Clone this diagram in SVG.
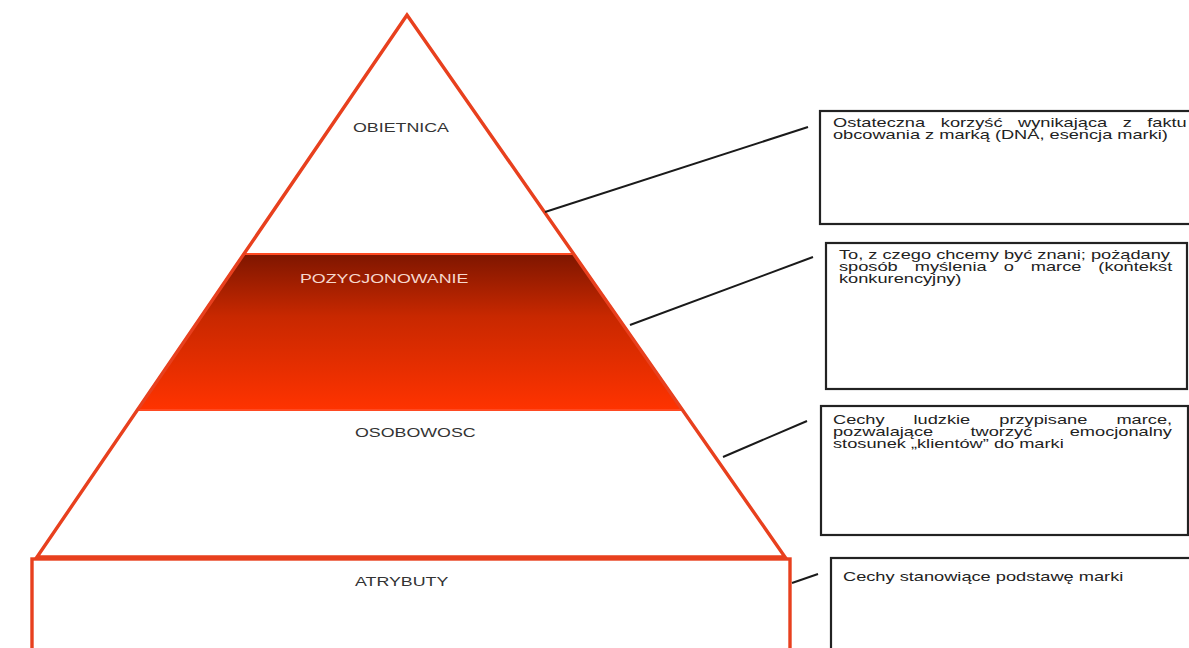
<svg xmlns="http://www.w3.org/2000/svg" width="1189" height="648" viewBox="0 0 1189 648">
  <style>
    .lbl { font-family: "Liberation Sans", Arial, sans-serif; font-size: 13px; fill: #333333; }
    .lblw { font-family: "Liberation Sans", Arial, sans-serif; font-size: 13px; fill: #F6D8CE; }
    .txt { font-family: "Liberation Sans", Arial, sans-serif; font-size: 13.3px; fill: #222222; }
    .box { fill: #ffffff; stroke: #222222; stroke-width: 2.2; }
    .red { stroke: #E8401E; stroke-width: 3.4; stroke-linejoin: miter; }
    .conn line { stroke: #1a1a1a; stroke-width: 2; }
  </style>
  <defs>
    <linearGradient id="bandGrad" x1="0" y1="0" x2="0" y2="1">
      <stop offset="0" stop-color="#7E1600"/>
      <stop offset="0.4" stop-color="#C82800"/>
      <stop offset="1" stop-color="#FF3300"/>
    </linearGradient>
  </defs>
  <rect width="1189" height="648" fill="#ffffff"/>

  <g id="pyramid">
    <polygon points="407,15 37,557 785,557" fill="#ffffff"/>
    <polygon id="band" points="243.8,254 573.7,254 682.5,410 137.4,410" fill="url(#bandGrad)" stroke="#FF4A22" stroke-width="2"/>
    <polygon points="407,15 37,557 785,557" fill="none" class="red"/>
  </g>

  <g id="obietnica">
    <text class="lbl" transform="translate(353,132) scale(1.37,1)">OBIETNICA</text>
  </g>
  <g id="pozycjonowanie">
    <text class="lblw" transform="translate(300,283) scale(1.37,1)">POZYCJONOWANIE</text>
  </g>
  <g id="osobowosc">
    <text class="lbl" transform="translate(355,437) scale(1.37,1)">OSOBOWOSC</text>
  </g>
  <g id="atrybuty">
    <rect x="32" y="559" width="758" height="110" fill="#ffffff" class="red"/>
    <text class="lbl" transform="translate(355,586) scale(1.37,1)">ATRYBUTY</text>
  </g>

  <g id="connectors" class="conn">
    <line x1="545" y1="212" x2="808" y2="127"/>
    <line x1="630" y1="325" x2="813" y2="257"/>
    <line x1="723" y1="457" x2="807" y2="421"/>
    <line x1="792" y1="583" x2="818" y2="574"/>
  </g>

  <g id="box-obietnica">
    <rect class="box" x="820" y="111" width="390" height="113"/>
    <text class="txt" transform="translate(833,127) scale(1.37,1)"><tspan x="0">Ostateczna</tspan><tspan x="78.7">korzyść</tspan><tspan x="135.1">wynikająca</tspan><tspan x="211.5">z</tspan><tspan x="229.4">faktu</tspan></text>
    <text class="txt" transform="translate(833,139) scale(1.37,1)">obcowania z marką (DNA, esencja marki)</text>
  </g>

  <g id="box-pozycjonowanie">
    <rect class="box" x="826" y="243" width="361" height="146"/>
    <text class="txt" transform="translate(839,259) scale(1.37,1)">To, z czego chcemy być znani; pożądany</text>
    <text class="txt" transform="translate(839,271) scale(1.37,1)"><tspan x="0">sposób</tspan><tspan x="55.3">myślenia</tspan><tspan x="120.2">o</tspan><tspan x="140">marce</tspan><tspan x="189.3">(kontekst</tspan></text>
    <text class="txt" transform="translate(839,283) scale(1.37,1)">konkurencyjny)</text>
  </g>

  <g id="box-osobowosc">
    <rect class="box" x="821" y="406" width="367" height="129"/>
    <text class="txt" transform="translate(833,424) scale(1.37,1)"><tspan x="0">Cechy</tspan><tspan x="58.8">ludzkie</tspan><tspan x="121.4">przypisane</tspan><tspan x="206.9">marce,</tspan></text>
    <text class="txt" transform="translate(833,436) scale(1.37,1)"><tspan x="0">pozwalające</tspan><tspan x="100.4">tworzyć</tspan><tspan x="172.8">emocjonalny</tspan></text>
    <text class="txt" transform="translate(833,448) scale(1.37,1)">stosunek „klientów” do marki</text>
  </g>

  <g id="box-atrybuty">
    <rect class="box" x="831" y="558" width="380" height="110"/>
    <text class="txt" transform="translate(843,581) scale(1.37,1)">Cechy stanowiące podstawę marki</text>
  </g>
</svg>
